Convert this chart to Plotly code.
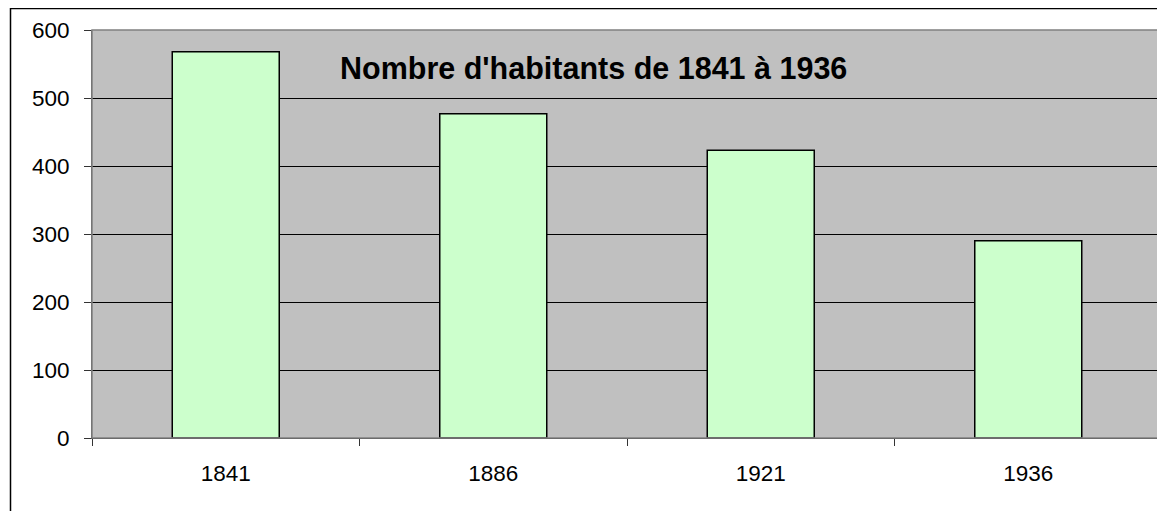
import plotly.graph_objects as go

years = ["1841", "1886", "1921", "1936"]
habitants = [568, 477, 423, 290]
title_text = "Nombre d'habitants de 1841 à 1936"

# page body has an 8px margin; figure is sized to fill the rest of the window
W, H = 1157, 503
L, R, T, B = 84, 3, 22, 73
PW, PH = W - L - R, H - T - B

fig = go.Figure(go.Bar(
    x=years, y=habitants, width=0.4,
    marker=dict(color="#CCFFCC", line=dict(color="#000000", width=1.5)),
    hoverinfo="x+y",
))

fig.update_layout(
    width=W, height=H,
    margin=dict(l=L, r=R, t=T, b=B, pad=0),
    paper_bgcolor="white", plot_bgcolor="#C0C0C0",
    font=dict(family="Liberation Sans, Arial, sans-serif", size=22, color="black"),
    showlegend=False,
    xaxis=dict(type="category", tickson="boundaries", ticks="outside", ticklen=7,
               tickcolor="#333333", showline=True, linecolor="#333333", linewidth=1,
               showgrid=False, tickfont=dict(size=22.5), ticklabelstandoff=15),
    yaxis=dict(range=[0, 600], dtick=100, ticks="outside", ticklen=7, tickcolor="#333333",
               showline=True, linecolor="#555555", linewidth=1, showgrid=True,
               gridcolor="#000000", gridwidth=1, zeroline=False, tickfont=dict(size=22.5),
               ticklabelstandoff=10),
    annotations=[dict(text="<b>" + title_text + "</b>", xref="paper", yref="paper",
                      x=0.469, y=0.908, xanchor="center", yanchor="middle",
                      showarrow=False, font=dict(size=30.5, color="black"))],
    shapes=[
        # plot area border
        dict(type="rect", xref="paper", yref="paper", x0=0, y0=0, x1=1, y1=1,
             line=dict(color="#808080", width=1.5), layer="above"),
        # outer chart border
        dict(type="rect", xref="paper", yref="paper",
             x0=(2.5 - L) / PW, y0=-0.5, x1=1.05, y1=(H - B - 0.5) / PH,
             line=dict(color="#000000", width=1.5)),
    ],
)

fig.write_html("out.html",
               post_script="document.documentElement.style.overflow='hidden';"
                           "document.body.style.overflow='hidden';")
